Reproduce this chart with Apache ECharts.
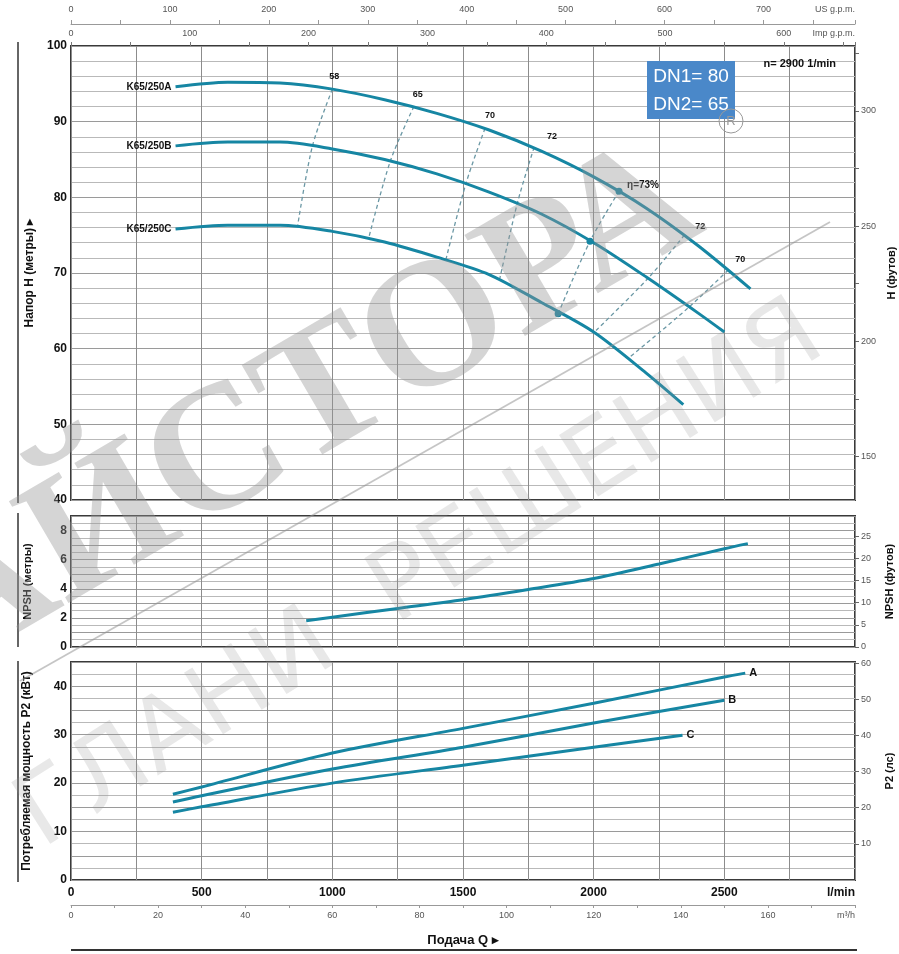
<!DOCTYPE html>
<html>
<head>
<meta charset="utf-8">
<script src="https://cdn.jsdelivr.net/npm/echarts@6/dist/echarts.min.js"></script>
<style>
html, body { margin: 0; padding: 0; background: #fff; }
#chart { width: 899px; height: 954px; }
</style>
</head>
<body>
<div id="chart"></div>
<script>
// head curves H (m) vs Q (l/min)
var headA = [[400, 94.6], [600, 95.2], [800, 95.1], [1000, 94.3], [1200, 92.9], [1400, 91.1], [1600, 88.9], [1800, 86.1], [2000, 82.7], [2200, 78.6], [2400, 73.6], [2600, 67.9]];
var headB = [[400, 86.8], [600, 87.3], [800, 87.3], [1000, 86.4], [1200, 85.0], [1400, 83.1], [1600, 80.7], [1800, 77.8], [2000, 74.0], [2200, 69.5], [2400, 64.7], [2500, 62.2]];
var headC = [[400, 75.8], [600, 76.3], [800, 76.3], [1000, 75.5], [1200, 74.1], [1400, 72.1], [1600, 69.8], [1800, 66.1], [2000, 62.2], [2200, 56.8], [2343, 52.6]];
var headNames = ['K65/250A', 'K65/250B', 'K65/250C'];

// iso-efficiency lines, from curve A down to curve C
var eff58 = [[1000, 94.3], [924, 86.8], [867, 76.2]];
var eff65 = [[1312, 92.0], [1223, 84.9], [1139, 74.6]];
var eff70 = [[1584, 89.1], [1511, 81.8], [1434, 71.7]];
var eff72 = [[1772, 86.6], [1710, 79.5], [1641, 69.3]];
var eff73 = [[2097, 80.8], [1986, 74.2], [1864, 64.6]];
var eff72r = [[2347, 75.0], [2208, 69.3], [2009, 62.4]];
var eff70r = [[2515, 70.4], [2362, 65.4], [2132, 58.7]];
var effNames = ['58', '65', '70', '72', 'η=73%', '72', '70'];

// NPSH (m)
var npsh = [[900, 1.8], [1000, 2.05], [1250, 2.65], [1500, 3.25], [1750, 3.95], [2000, 4.7], [2250, 5.7], [2500, 6.75], [2590, 7.1]];

// power P2 (kW)
var powerA = [[390, 17.7], [500, 19.2], [1000, 26.2], [1500, 31.3], [2000, 36.5], [2500, 41.9], [2580, 42.7]];
var powerB = [[390, 16.1], [500, 17.4], [1000, 22.9], [1500, 27.4], [2000, 32.4], [2500, 37.1]];
var powerC = [[390, 14.0], [500, 15.1], [1000, 20.0], [1500, 23.7], [2000, 27.4], [2340, 29.9]];
var powerNames = ['A', 'B', 'C'];

// secondary scale tick labels
var headFtTicks = [150, 200, 250, 300];
var npshFtTicks = [0, 5, 10, 15, 20, 25];
var powerHpTicks = [10, 20, 30, 40, 50, 60];

var M_TO_FT = 3.28084, KW_TO_HP = 1 / 0.7457, LPM_TO_US = 0.264172, LPM_TO_IMP = 0.219969, LPM_TO_M3H = 0.06;
var QMAX = 3000;

var TEAL = '#1686a3';
var DASH = '#6b98a5';
var FONT = '"Liberation Sans Narrow", "Liberation Sans", sans-serif';
var FONTW = '"Liberation Sans", Arial, sans-serif';

var chart = echarts.init(document.getElementById('chart'));

function flowAxis(gi, labels) {
    return {
        type: 'value', gridIndex: gi, min: 0, max: QMAX, interval: 250,
        axisLine: { show: false, onZero: false }, axisTick: { show: false },
        axisLabel: labels ? {
            show: true, color: '#111', fontFamily: FONTW, fontWeight: 'bold', fontSize: 12, margin: 7,
            showMaxLabel: true, alignMaxLabel: 'right',
            formatter: function (v) {
                if (v === QMAX) return 'l/min';
                return v % 500 === 0 ? String(v) : '';
            }
        } : { show: false },
        splitLine: { show: true, lineStyle: { color: '#8c8c8c', width: 1 } }
    };
}

function leftAxis(gi, min, max, interval, minorN, labelStep) {
    return {
        type: 'value', gridIndex: gi, position: 'left', min: min, max: max, interval: interval,
        axisLine: { show: false, onZero: false }, axisTick: { show: false },
        axisLabel: {
            color: '#111', fontFamily: FONT, fontWeight: 'bold', fontSize: 12, margin: 4,
            formatter: function (v) { return (v % labelStep === 0) ? String(v) : ''; }
        },
        splitLine: { show: true, lineStyle: { color: '#9a9a9a', width: 1 } },
        minorTick: { show: false, splitNumber: minorN },
        minorSplitLine: { show: true, lineStyle: { color: '#b9b9b9', width: 1 } }
    };
}

function rightAxis(gi, min, max, labelVals, tickVals, name, gap) {
    return {
        type: 'value', gridIndex: gi, position: 'right', min: min, max: max,
        name: name, nameLocation: 'middle', nameGap: gap,
        nameTextStyle: { color: '#111', fontFamily: FONTW, fontWeight: 'bold', fontSize: 11 },
        axisLine: { show: false, onZero: false },
        axisTick: { show: true, inside: false, length: 4, customValues: tickVals, lineStyle: { color: '#666' } },
        axisLabel: { color: '#555', fontFamily: FONT, fontSize: 9, margin: 6, customValues: labelVals },
        splitLine: { show: false }
    };
}

// first point carries the text label through an invisible symbol
function curveData(pts, label) {
    return pts.map(function (p, i) {
        if (i === 0 && label) {
            return { value: p, symbol: 'circle', symbolSize: 2, itemStyle: { color: 'rgba(0,0,0,0)' }, label: label };
        }
        return p;
    });
}

var series = [];
[headA, headB, headC].forEach(function (pts, i) {
    series.push({
        type: 'line', name: headNames[i], xAxisIndex: 0, yAxisIndex: 0, smooth: 0.3,
        showSymbol: true, symbol: 'none', z: 5,
        lineStyle: { color: TEAL, width: 3 },
        data: curveData(pts, { show: true, position: 'left', distance: 3, formatter: headNames[i], color: '#111', fontFamily: FONTW, fontWeight: 'bold', fontSize: 10 })
    });
});

var effLines = [eff58, eff65, eff70, eff72, eff73, eff72r, eff70r];
var effLabelOffsets = [[2, -3], [4, -3], [5, -3], [18, -1], [24, 6], [16, 1], [12, -1]];
effLines.forEach(function (pts, i) {
    var isPeak = (i === 4);
    var lbl = {
        show: true, position: 'top', distance: 4, offset: effLabelOffsets[i], formatter: effNames[i],
        color: '#111', fontFamily: FONTW, fontWeight: 'bold', fontSize: isPeak ? 10 : 9
    };
    series.push({
        type: 'line', name: 'eta' + effNames[i], xAxisIndex: 0, yAxisIndex: 0, smooth: 0.3,
        showSymbol: true, symbol: isPeak ? 'circle' : 'none', symbolSize: 7, z: isPeak ? 6 : 4,
        itemStyle: { color: TEAL },
        lineStyle: { color: DASH, width: 1.3, type: [4, 3] },
        data: isPeak ? pts.map(function (p, k) { return k === 0 ? { value: p, label: lbl } : p; }) : curveData(pts, lbl)
    });
});

series.push({
    type: 'line', name: 'NPSH', xAxisIndex: 1, yAxisIndex: 2, smooth: 0.3, showSymbol: false, symbol: 'none',
    lineStyle: { color: TEAL, width: 3 }, data: npsh
});

[powerA, powerB, powerC].forEach(function (pts, i) {
    series.push({
        type: 'line', name: 'P2 ' + powerNames[i], xAxisIndex: 2, yAxisIndex: 4, smooth: 0.3, showSymbol: false, symbol: 'none',
        lineStyle: { color: TEAL, width: 3 }, data: pts,
        endLabel: { show: true, formatter: powerNames[i], color: '#111', fontFamily: FONTW, fontWeight: 'bold', fontSize: 11, distance: 4 }
    });
});

var gridStyle = { show: true, borderColor: '#3a3a3a', borderWidth: 2, backgroundColor: '#fff', containLabel: false, outerBoundsMode: 'none' };

var option = {
    animation: false,
    backgroundColor: '#fff',
    grid: [
        Object.assign({ left: 71, right: 44, top: 46, height: 454 }, gridStyle),
        Object.assign({ left: 71, right: 44, top: 516, height: 131 }, gridStyle),
        Object.assign({ left: 71, right: 44, top: 662, height: 218 }, gridStyle)
    ],
    xAxis: [
        flowAxis(0, false),
        flowAxis(1, false),
        flowAxis(2, true),
        {   // US g.p.m.
            type: 'value', gridIndex: 0, position: 'top', offset: 22, min: 0, max: QMAX * LPM_TO_US, interval: 50,
            axisLine: { show: true, onZero: false, lineStyle: { color: '#999', width: 1 } },
            axisTick: { show: true, length: 4, lineStyle: { color: '#999' } },
            axisLabel: {
                color: '#555', fontFamily: FONT, fontSize: 9, margin: 10, showMaxLabel: true, alignMaxLabel: 'right',
                formatter: function (v) { if (v > 790) return 'US g.p.m.'; return v % 100 === 0 ? String(v) : ''; }
            },
            splitLine: { show: false }
        },
        {   // Imp g.p.m.
            type: 'value', gridIndex: 0, position: 'top', offset: 0, min: 0, max: QMAX * LPM_TO_IMP, interval: 50,
            axisLine: { show: false, onZero: false },
            axisTick: { show: true, length: 4, lineStyle: { color: '#777' } },
            axisLabel: {
                color: '#555', fontFamily: FONT, fontSize: 9, margin: 8, showMaxLabel: true, alignMaxLabel: 'right',
                formatter: function (v) { if (v > 655) return 'Imp g.p.m.'; return v % 100 === 0 ? String(v) : ''; }
            },
            splitLine: { show: false }
        },
        {   // m3/h
            type: 'value', gridIndex: 2, position: 'bottom', offset: 25, min: 0, max: QMAX * LPM_TO_M3H, interval: 10,
            axisLine: { show: true, onZero: false, lineStyle: { color: '#999', width: 1 } },
            axisTick: { show: true, length: 3, lineStyle: { color: '#999' } },
            axisLabel: {
                color: '#555', fontFamily: FONT, fontSize: 9, margin: 6, showMaxLabel: true, alignMaxLabel: 'right',
                formatter: function (v) { if (v === 180) return 'm³/h'; return v % 20 === 0 ? String(v) : ''; }
            },
            splitLine: { show: false }
        }
    ],
    yAxis: [
        Object.assign(leftAxis(0, 40, 100, 10, 5, 10), {
            name: 'Напор H (метры) ▸', nameLocation: 'middle', nameGap: 34,
            nameTextStyle: { color: '#111', fontFamily: FONTW, fontWeight: 'bold', fontSize: 12 }
        }),
        rightAxis(0, 40 * M_TO_FT, 100 * M_TO_FT, headFtTicks, [150, 175, 200, 225, 250, 275, 300, 325], 'H (футов)', 29),
        Object.assign(leftAxis(1, 0, 9, 1, 2, 2), {
            name: 'NPSH (метры)', nameLocation: 'middle', nameGap: 38,
            nameTextStyle: { color: '#111', fontFamily: FONTW, fontWeight: 'bold', fontSize: 11 }
        }),
        rightAxis(1, 0, 9 * M_TO_FT, npshFtTicks, npshFtTicks, 'NPSH (футов)', 29),
        Object.assign(leftAxis(2, 0, 45, 5, 2, 10), {
            name: 'Потребляемая мощность P2 (кВт)', nameLocation: 'middle', nameGap: 38,
            nameTextStyle: { color: '#111', fontFamily: FONT, fontWeight: 'bold', fontSize: 12 }
        }),
        rightAxis(2, 0, 45 * KW_TO_HP, powerHpTicks, powerHpTicks, 'P2 (лс)', 29)
    ],
    series: series,
    graphic: [
        { type: 'line', shape: { x1: 18, y1: 42, x2: 18, y2: 503 }, style: { stroke: '#333', lineWidth: 1.5 } },
        { type: 'line', shape: { x1: 18, y1: 513, x2: 18, y2: 647 }, style: { stroke: '#333', lineWidth: 1.5 } },
        { type: 'line', shape: { x1: 18, y1: 661, x2: 18, y2: 882 }, style: { stroke: '#333', lineWidth: 1.5 } },
        { type: 'line', shape: { x1: 71, y1: 950, x2: 857, y2: 950 }, style: { stroke: '#333', lineWidth: 2 } },
        { type: 'text', x: 463, y: 940, style: { text: 'Подача Q ▸', fill: '#111', font: 'bold 13px ' + FONTW, textAlign: 'center', textVerticalAlign: 'middle' } },
        { type: 'text', x: 836, y: 64, z: 20, style: { text: 'n= 2900 1/min', fill: '#111', font: 'bold 11px ' + FONT, textAlign: 'right', textVerticalAlign: 'middle' } },
        { type: 'rect', z: 20, shape: { x: 647, y: 61, width: 88, height: 58 }, style: { fill: '#4a88c9' } },
        { type: 'text', z: 21, x: 691, y: 77, style: { text: 'DN1= 80', fill: '#fff', font: '19px ' + FONT, textAlign: 'center', textVerticalAlign: 'middle' } },
        { type: 'text', z: 21, x: 691, y: 105, style: { text: 'DN2= 65', fill: '#fff', font: '19px ' + FONT, textAlign: 'center', textVerticalAlign: 'middle' } },
        { type: 'circle', z: 22, shape: { cx: 731, cy: 121, r: 12 }, style: { fill: 'none', stroke: '#9a9a9a', lineWidth: 1 } },
        { type: 'text', z: 22, x: 731, y: 121, style: { text: 'R', fill: '#9a9a9a', font: '13px ' + FONTW, textAlign: 'center', textVerticalAlign: 'middle' } },
        // watermark
        { type: 'text', z: 50, x: -70, y: 630, rotation: 0.529, style: { text: 'АЙСТОРА', fill: 'rgba(150,150,150,0.4)', font: 'bold 180px "Liberation Serif", serif', textAlign: 'left', textVerticalAlign: 'middle' } },
        { type: 'line', z: 50, shape: { x1: 20, y1: 681, x2: 830, y2: 222 }, style: { stroke: 'rgba(150,150,150,0.55)', lineWidth: 1.8 } },
        { type: 'text', z: 50, x: 28, y: 827, rotation: 0.565, style: { text: 'ГЛАНИ  РЕШЕНИЯ', fill: 'rgba(150,150,150,0.22)', font: '100px "DejaVu Sans", sans-serif', textAlign: 'left', textVerticalAlign: 'middle' } }
    ]
};

chart.setOption(option);
</script>
</body>
</html>
